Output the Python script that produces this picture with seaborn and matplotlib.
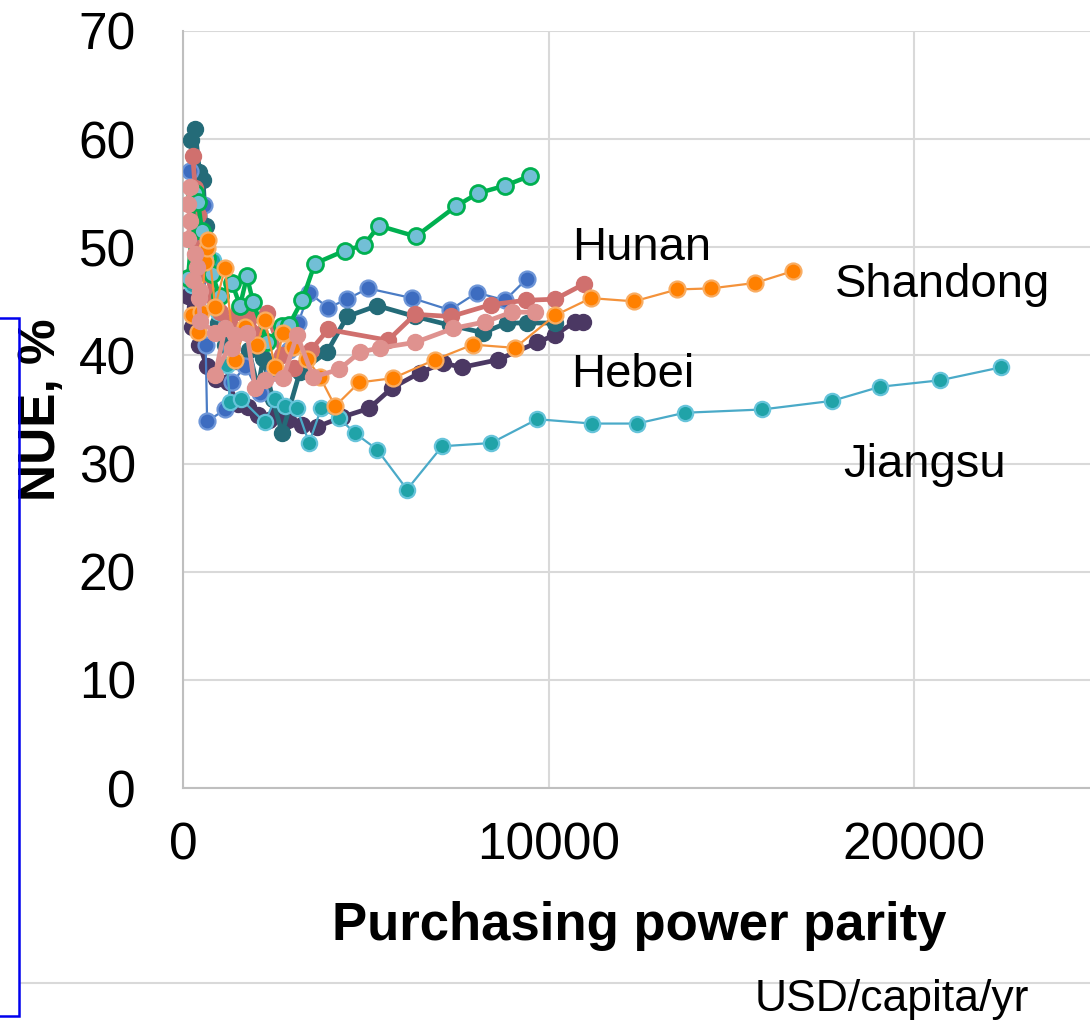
import matplotlib
matplotlib.use("Agg")
import matplotlib.pyplot as plt
import matplotlib.patches as mpatches
import matplotlib.lines as mlines
import seaborn as sns
import pandas as pd

# ---------------- data ----------------
green_x = [140, 330, 410, 520, 650, 800, 1000, 1340, 1560, 1750, 1920, 2300, 2710, 2900, 3260, 3610, 4430, 4950, 5360, 6370, 7470, 8070, 8810, 9490]
green_y = [47.2, 55.0, 54.2, 51.5, 49.0, 47.5, 45.5, 46.7, 44.6, 47.3, 44.9, 41.2, 42.7, 42.8, 45.1, 48.5, 49.7, 50.2, 52.0, 51.0, 53.8, 55.0, 55.7, 56.6]

blue_x = [190, 280, 400, 570, 620, 660, 1150, 1350, 1700, 2100, 2500, 2900, 3150, 3450, 3970, 4490, 5060, 6270, 7300, 8040, 8810, 9410]
blue_y = [57.1, 54.0, 50.5, 53.9, 41.0, 33.9, 35.0, 37.5, 39.0, 36.5, 38.5, 40.5, 43.0, 45.8, 44.4, 45.2, 46.2, 45.3, 44.2, 45.8, 45.1, 47.1]

teal_x = [220, 330, 450, 550, 620, 750, 950, 1150, 1450, 1800, 2050, 2200, 2450, 2710, 3200, 3940, 4490, 5310, 6350, 7300, 8210, 8860, 9410, 10180]
teal_y = [59.9, 60.9, 57.0, 56.2, 52.0, 47.5, 43.0, 41.0, 39.5, 40.5, 37.0, 39.8, 36.0, 32.8, 38.5, 40.3, 43.6, 44.6, 43.6, 42.8, 42.1, 43.0, 43.0, 43.0]

red_x = [270, 330, 420, 520, 650, 800, 1000, 1250, 1500, 1800, 2100, 2300, 2700, 3050, 3500, 3970, 5610, 6350, 7330, 8430, 9380, 10180, 10970]
red_y = [58.4, 55.5, 53.0, 50.0, 47.5, 45.5, 44.0, 43.0, 44.0, 43.5, 42.0, 43.9, 40.0, 38.8, 40.5, 42.4, 41.4, 43.8, 43.6, 44.7, 45.1, 45.2, 46.6]

pink_x = [190, 140, 190, 140, 330, 380, 280, 470, 430, 470, 880, 1150, 880, 1420, 1340, 1750, 1970, 2240, 2740, 3120, 3560, 4270, 4840, 5390, 6350, 7390, 8260, 9000, 9630]
pink_y = [55.6, 54.0, 52.4, 50.8, 49.4, 48.2, 47.0, 46.0, 45.3, 43.2, 42.1, 42.5, 38.2, 41.9, 40.7, 42.1, 37.0, 37.7, 37.9, 41.9, 38.0, 38.7, 40.3, 40.7, 41.2, 42.5, 43.1, 44.0, 44.0]

orange_x = [250, 400, 500, 600, 650, 680, 880, 1150, 1420, 1700, 2020, 2240, 2520, 2740, 3010, 3390, 3750, 4160, 4820, 5750, 6890, 7930, 9080, 10180, 11160, 12340, 13520, 14450, 15650, 16690]
orange_y = [43.7, 42.2, 44.0, 48.6, 49.9, 50.7, 44.5, 48.1, 39.6, 42.6, 41.0, 43.3, 38.9, 42.1, 40.8, 39.7, 38.0, 35.3, 37.5, 37.9, 39.6, 41.0, 40.7, 43.7, 45.3, 45.0, 46.1, 46.2, 46.7, 47.8]

purple_x = [140, 330, 250, 450, 650, 900, 1230, 1500, 1780, 2040, 2350, 2600, 2870, 3260, 3670, 4350, 5090, 5720, 6480, 7110, 7630, 8620, 9690, 10180, 10720, 10940]
purple_y = [45.5, 44.5, 42.6, 41.0, 39.0, 37.8, 37.5, 35.5, 35.2, 34.5, 34.0, 34.8, 34.0, 33.6, 33.4, 34.3, 35.1, 37.0, 38.4, 39.3, 38.9, 39.6, 41.2, 41.9, 43.1, 43.1]

cyan_x = [250, 500, 820, 950, 1200, 1290, 1580, 2240, 2520, 2790, 3120, 3450, 3780, 4270, 4710, 5310, 6130, 7090, 8430, 9690, 11190, 12420, 13730, 15840, 17760, 19070, 20710, 22380]
cyan_y = [46.5, 48.0, 48.8, 44.0, 39.1, 35.7, 36.0, 33.8, 36.0, 35.3, 35.1, 31.9, 35.1, 34.2, 32.8, 31.3, 27.6, 31.6, 31.9, 34.1, 33.7, 33.7, 34.7, 35.0, 35.8, 37.1, 37.7, 38.9]

province_labels = ["Hunan", "Shandong", "Hebei", "Jiangsu"]
y_ticks = [0, 10, 20, 30, 40, 50, 60, 70]
x_ticks = [0, 10000, 20000]
x_tick_labels = ["0", "10000", "20000"]

# ---------------- figure ----------------
W, H = 1090, 1022
sns.set_theme(style="white")
plt.rcParams["font.family"] = ["Liberation Sans", "DejaVu Sans"]
plt.rcParams["text.color"] = "black"

fig = plt.figure(figsize=(W / 100, H / 100), dpi=100)
ax = fig.add_axes([183 / W, 1 - 788 / H, (W - 183) / W, (788 - 31) / H])

# (series name, x, y, line color, lw, marker face, marker edge, mew, ms)
styles = [
    ("purple", purple_x, purple_y, "#4B3863", 3.4, "#4B3863", "#4B3863", 1.0, 11.5),
    ("teal", teal_x, teal_y, "#246B78", 3.4, "#246B78", "#246B78", 1.0, 11.5),
    ("blue", blue_x, blue_y, "#4A7CC5", 1.6, "#3D6CC0", "#6E96D8", 1.6, 11.5),
    ("cyan", cyan_x, cyan_y, "#4AAAC8", 1.6, "#20A3A8", "#66C4DA", 1.6, 11),
    ("red", red_x, red_y, "#D0706E", 3.4, "#D0706E", "#D0706E", 1.0, 11.5),
    ("green", green_x, green_y, "#00B050", 3.2, "#72BFD6", "#00B050", 2.0, 11.5),
    ("orange", orange_x, orange_y, "#F4923A", 1.6, "#FF8000", "#F9AD63", 1.6, 11.5),
    ("pink", pink_x, pink_y, "#DF928F", 3.4, "#DF928F", "#DF928F", 1.0, 11.5),
]

for i, (name, xs, ys, col, lw, mfc, mec, mew, ms) in enumerate(styles):
    df = pd.DataFrame({"ppp": xs, "nue": ys})
    sns.lineplot(data=df, x="ppp", y="nue", sort=False, estimator=None, ax=ax,
                 color=col, lw=lw, marker="o", markersize=ms,
                 markerfacecolor=mfc, markeredgecolor=mec, markeredgewidth=mew,
                 zorder=3 + i)

ax.set_xlim(0, (W - 183) / ((914 - 183) / 20000))
ax.set_ylim(0, 70)
ax.set_xticks(x_ticks)
ax.set_xticklabels(x_tick_labels)
ax.set_yticks(y_ticks)
ax.set_xlabel("")
ax.set_ylabel("")
ax.set_axisbelow(True)
ax.grid(True, color="#D9D9D9", lw=1.5)
for s in ["top", "right"]:
    ax.spines[s].set_visible(False)
for s in ["left", "bottom"]:
    ax.spines[s].set_color("#BFBFBF")
    ax.spines[s].set_linewidth(1.5)
ax.tick_params(axis="both", length=0, labelsize=37, colors="black")
ax.tick_params(axis="y", pad=34)
ax.tick_params(axis="x", pad=24)

def fx(px):
    return px / W

def fy(py):
    return 1 - py / H

fig.text(fx(42), fy(410), "NUE, %", rotation=90, fontsize=37, fontweight="bold",
         ha="center", va="center", color="black")
fig.text(fx(639), fy(940), "Purchasing power parity", fontsize=38, fontweight="bold",
         ha="center", va="baseline", color="black")
fig.text(fx(755), fy(1011), "USD/capita/yr", fontsize=32, ha="left", va="baseline",
         color="black")

label_pos = [(572, 260), (835, 297), (571, 387), (843, 477)]
for lab, (px, py) in zip(province_labels, label_pos):
    fig.text(fx(px), fy(py), lab, fontsize=34, ha="left", va="baseline", zorder=20,
             color="black")

# decorative elements of the slide
fig.add_artist(mlines.Line2D([fx(20), fx(W)], [fy(983), fy(983)], color="#D9D9D9", lw=1.5,
                             transform=fig.transFigure, zorder=0))
fig.add_artist(mpatches.Rectangle((fx(-3), fy(1016)), fx(22), (1016 - 318) / H,
                                  fill=False, edgecolor="#0000EE", lw=1.8,
                                  transform=fig.transFigure, zorder=5))

fig.savefig("out.png", dpi=100)
